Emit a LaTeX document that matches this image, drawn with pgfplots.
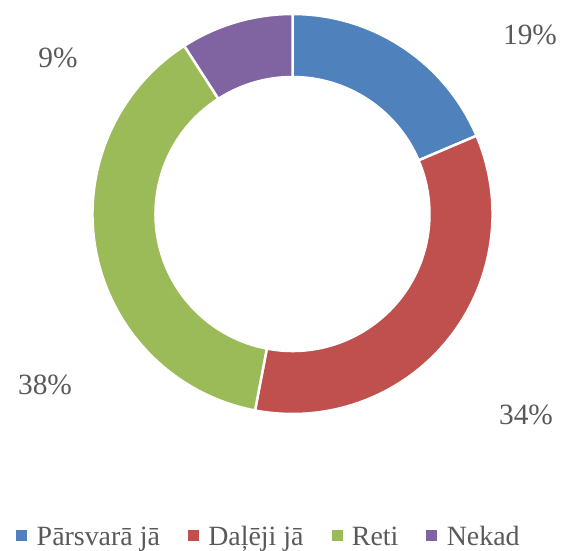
\documentclass[border=0pt]{standalone}
\usepackage{fontspec}
\setmainfont{Liberation Serif}
\usepackage{pgfplots}
\usepackage{pgfplotstable}
\pgfplotsset{compat=1.18}
\definecolor{cBlue}{HTML}{4F81BD}
\definecolor{cRed}{HTML}{C0504D}
\definecolor{cGreen}{HTML}{9BBB59}
\definecolor{cPurple}{HTML}{8064A2}
\definecolor{txt}{HTML}{595959}
% value = share in percent; lab = printed label; lx, ly = label position
\pgfplotstableread{
name value lab col lx ly
P 18.6 19 cBlue 530 516
D 34.4 34 cRed 526 136
R 37.9 38 cGreen 45 166
N 9.1 9 cPurple 58 493
}\donut
\begin{document}
\begin{tikzpicture}
\begin{axis}[
  x=1bp, y=1bp,
  xmin=0, xmax=584, ymin=0, ymax=551,
  hide axis, clip=false,
  legend columns=4,
  legend style={at={(axis cs:268,15)}, anchor=center, draw=none, fill=none,
    font=\rmfamily\fontsize{28}{30}\selectfont, text=txt, inner sep=0pt,
    nodes={inner sep=0pt, text depth=0pt},
    /tikz/every odd column/.append style={column sep=10bp},
    /tikz/every even column/.append style={column sep=28bp}},
]
\pgfplotstablegetrowsof{\donut}
\pgfmathtruncatemacro\nrows{\pgfplotsretval-1}
\def\cum{0}
\pgfplotsforeachungrouped \i in {0,...,\nrows}{
  \pgfplotstablegetelem{\i}{value}\of{\donut}\let\v\pgfplotsretval
  \pgfplotstablegetelem{\i}{col}\of{\donut}\let\c\pgfplotsretval
  \pgfplotstablegetelem{\i}{lab}\of{\donut}\let\l\pgfplotsretval
  \pgfplotstablegetelem{\i}{lx}\of{\donut}\let\lx\pgfplotsretval
  \pgfplotstablegetelem{\i}{ly}\of{\donut}\let\ly\pgfplotsretval
  \pgfmathsetmacro\aA{90-3.6*\cum}
  \pgfmathsetmacro\cum{\cum+\v}
  \pgfmathsetmacro\aB{90-3.6*\cum}
  \edef\cmd{\noexpand\filldraw[fill=\c, draw=white, line width=2.5bp, line join=miter]
    (axis cs:292.5,337) ++(\aA:200bp) arc[start angle=\aA, end angle=\aB, radius=200bp]
    -- ++(\aB:-63bp) arc[start angle=\aB, end angle=\aA, radius=137bp] -- cycle;
    \noexpand\node[text=txt, font=\noexpand\fontsize{29.5}{31}\noexpand\selectfont]
      at (axis cs:\lx,\ly) {\l\noexpand\%};}
  \cmd
}
\addlegendimage{legend image code/.code={\fill[cBlue] (0bp,-4bp) rectangle (10bp,6bp);}}
\addlegendentry{Pārsvarā jā}
\addlegendimage{legend image code/.code={\fill[cRed] (0bp,-4bp) rectangle (10bp,6bp);}}
\addlegendentry{Daļēji jā}
\addlegendimage{legend image code/.code={\fill[cGreen] (0bp,-4bp) rectangle (10bp,6bp);}}
\addlegendentry{Reti}
\addlegendimage{legend image code/.code={\fill[cPurple] (0bp,-4bp) rectangle (10bp,6bp);}}
\addlegendentry{Nekad}
\end{axis}
\pgfresetboundingbox
\path (0,0) rectangle (584bp,551bp);
\end{tikzpicture}
\end{document}
